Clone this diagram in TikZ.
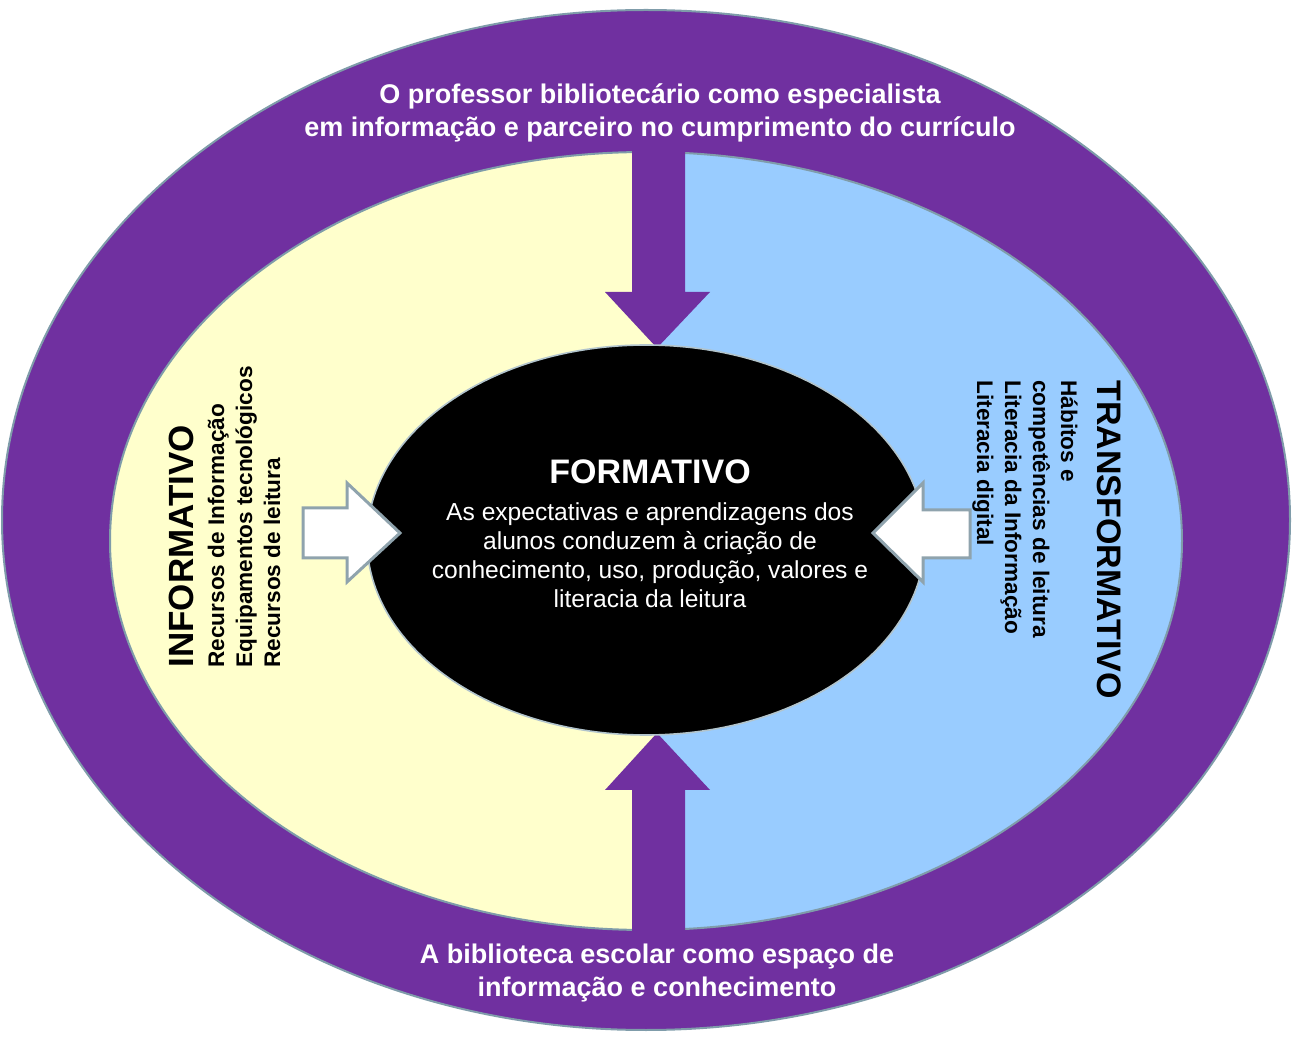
\documentclass[tikz,border=0pt]{standalone}
\usepackage{fontspec}
\setmainfont{Liberation Sans}
\usetikzlibrary{shapes.geometric}
\definecolor{ringpurple}{HTML}{7030A0}
\definecolor{leftyellow}{HTML}{FFFFCC}
\definecolor{rightblue}{HTML}{99CCFF}
\definecolor{softedge}{HTML}{7F9CAA}
\definecolor{arrowedge}{HTML}{8FA3AD}
\begin{document}
\begin{tikzpicture}[x=0.5pt,y=-0.5pt,
  ringtext/.style={text=white,font=\fontsize{13.5}{16.5}\selectfont\bfseries,align=center,inner sep=0pt},
  coretitle/.style={text=white,font=\fontsize{17}{20}\selectfont\bfseries,inner sep=0pt},
  coretext/.style={text=white,font=\fontsize{12.3}{14.5}\selectfont,align=center,inner sep=0pt},
  sidetitle/.style={text=black,font=\fontsize{17.5}{20}\selectfont\bfseries,inner sep=0pt},
  sideline/.style={text=black,font=\fontsize{11.3}{13}\selectfont\bfseries,inner sep=0pt},
  blockarrow/.style={fill=ringpurple},
  whitearrow/.style={fill=white,draw=arrowedge,line width=1.5pt,line join=miter}]
\useasboundingbox (0,0) rectangle (1292,1037);
% outer ring
\node (outer) [ellipse,fill=ringpurple,draw=softedge,line width=1pt,inner sep=0pt,
  minimum width=644pt,minimum height=510pt] at (646,520) {};
% inner halves
\begin{scope}
  \clip (646,541) ellipse [x radius=536, y radius=389];
  \fill[leftyellow] (0,0) rectangle (657,1037);
  \fill[rightblue] (657,0) rectangle (1292,1037);
\end{scope}
\node (inner) [ellipse,draw=softedge,line width=1pt,inner sep=0pt,
  minimum width=536pt,minimum height=389pt] at (646,541) {};
% purple block arrows
\fill[blockarrow] (632,140) -- (685,140) -- (685,292) -- (710,292) -- (657,348)
  -- (605,292) -- (632,292) -- cycle;
\fill[blockarrow] (632,940) -- (685,940) -- (685,790) -- (710,790) -- (657,733)
  -- (605,790) -- (632,790) -- cycle;
% core
\node (core) [ellipse,fill=black,draw=softedge!60,line width=0.8pt,inner sep=0pt,
  minimum width=279pt,minimum height=195pt] at (646,540) {};
% white arrows
\draw[whitearrow] (303,508) -- (347,508) -- (347,483) -- (400,533) -- (347,582)
  -- (347,558) -- (303,558) -- cycle;
\draw[whitearrow] (970,510) -- (923,510) -- (923,483) -- (873,533) -- (923,582)
  -- (923,558) -- (970,558) -- cycle;
% ring texts
\node (toptext) [ringtext] at (660,113) {O professor bibliotecário como especialista\\em informação e parceiro no cumprimento do currículo};
\node (bottomtext) [ringtext] at (657,973) {A biblioteca escolar como espaço de\\informação e conhecimento};
% core texts
\node (formtitle) [coretitle] at (650,472) {FORMATIVO};
\node (formtext) [coretext] at (650,555) {As expectativas e aprendizagens dos\\alunos conduzem à criação de\\conhecimento, uso, produção, valores e\\literacia da leitura};
% left side
\node (infotitle) [sidetitle,rotate=90,anchor=base west] at (193,668) {INFORMATIVO};
\node (info1) [sideline,rotate=90,anchor=base west] at (224,668) {Recursos de Informação};
\node (info2) [sideline,rotate=90,anchor=base west] at (252,668) {Equipamentos tecnológicos};
\node (info3) [sideline,rotate=90,anchor=base west] at (280,668) {Recursos de leitura};
% right side
\node (transtitle) [sidetitle,font=\fontsize{17}{20}\selectfont\bfseries,rotate=-90,anchor=base west] at (1097,380) {TRANSFORMATIVO};
\node (trans1) [sideline,rotate=-90,anchor=base west] at (1061,380) {Hábitos e};
\node (trans2) [sideline,rotate=-90,anchor=base west] at (1033,380) {competências de leitura};
\node (trans3) [sideline,rotate=-90,anchor=base west] at (1005,380) {Literacia da Informação};
\node (trans4) [sideline,rotate=-90,anchor=base west] at (977,380) {Literacia digital};
\end{tikzpicture}
\end{document}
